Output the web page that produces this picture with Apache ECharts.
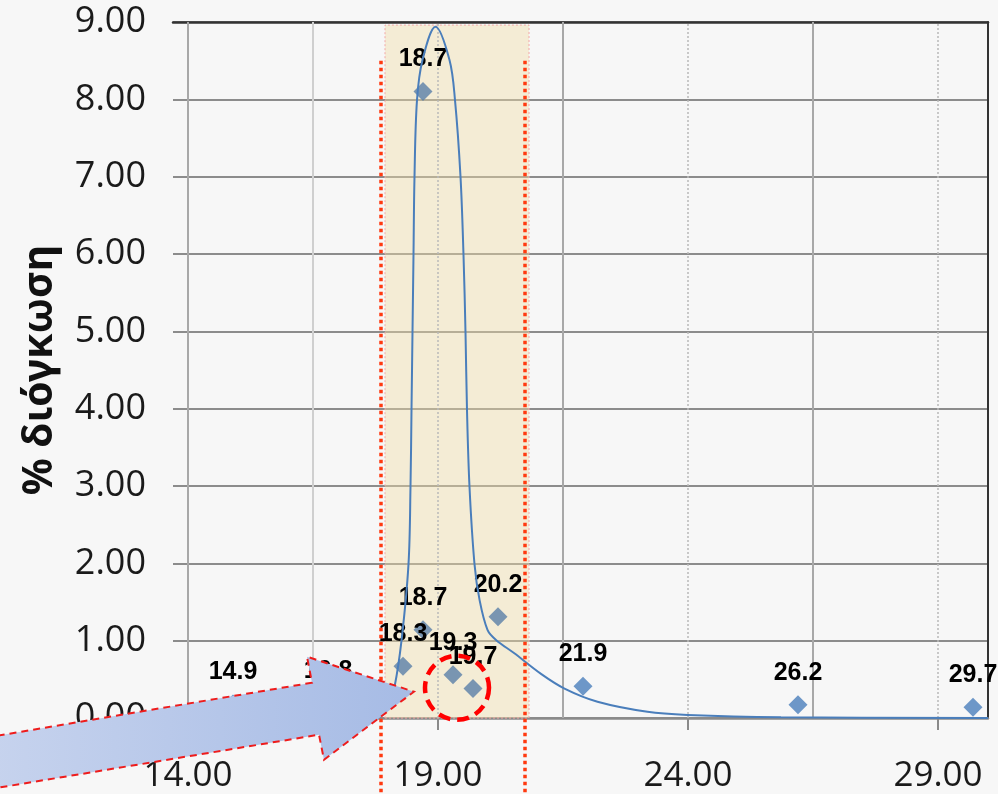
<!DOCTYPE html>
<html><head><meta charset="utf-8">
<script src="https://cdn.jsdelivr.net/npm/echarts@6/dist/echarts.min.js"></script>
<style>html,body{margin:0;padding:0;background:#f7f7f7}#c{width:998px;height:794px}</style>
</head><body><div id="c"></div>
<script>
// ---- data ----
const pointX = [14.9, 16.8, 18.3, 18.7, 18.7, 19.3, 19.7, 20.2, 21.9, 26.2, 29.7];
const pointY = [0.18, 0.19, 0.67, 8.10, 1.14, 0.56, 0.38, 1.31, 0.41, 0.17, 0.14];
const curveX = [17.8, 18.0, 18.13, 18.27, 18.41, 18.45, 18.47, 18.49, 18.51, 18.53, 18.58, 18.69, 18.95, 19.23, 19.34, 19.45, 19.51, 19.55, 19.58, 19.63, 19.73, 19.83, 19.99, 20.16, 20.52, 21.06, 21.53, 22.19, 23.19, 23.99, 25.86, 30.0];
const curveY = [0.0, 0.12, 0.40, 1.00, 1.99, 2.99, 3.98, 4.99, 5.99, 7.00, 7.99, 8.51, 8.94, 8.51, 7.99, 7.00, 5.99, 4.99, 3.98, 2.99, 1.99, 1.53, 1.14, 1.01, 0.84, 0.57, 0.38, 0.21, 0.08, 0.04, 0.01, 0.0];
const xTickValues = [14, 19, 24, 29];
const xGridValues = [14, 16.5, 19, 21.5, 24, 26.5, 29];
const yTickValues = [0, 1, 2, 3, 4, 5, 6, 7, 8, 9];
const bandRange = [17.94, 20.82];
const bandTop = 8.96;
const yTitle = '% διόγκωση';

// ---- annotations (data coordinates) ----
const dottedLineX = [17.86, 20.74];
const dottedLineTop = 8.5;
const circleCenter = [19.38, 0.39];
const arrowTip = [18.52, 0.34];

const chart = echarts.init(document.getElementById('c'), null, {renderer: 'canvas'});
const X_MIN = 13.7, X_MAX = 30;
const curveData = curveX.map((x, i) => [x, curveY[i]]);
const pointData = pointX.map((x, i) => [x, pointY[i]]);
const labelFont = "'Liberation Sans Narrow','Liberation Sans',sans-serif";

const gridStyle = v => {
  if (v === 19 || v === 24 || v === 29) return {color: '#b9b9b9', width: 1.5, type: [2, 2]};
  if (v === 16.5) return {color: '#cfcfcf', width: 2, type: 'solid'};
  return {color: '#a8a8a8', width: 2, type: 'solid'};
};

chart.setOption({
  backgroundColor: '#f7f7f7',
  animation: false,
  grid: {left: 173, right: 10, top: 22, bottom: 76},
  xAxis: [{
    type: 'value', min: X_MIN, max: X_MAX,
    axisLine: {show: true, onZero: false, lineStyle: {color: '#8a8a8a', width: 2.5}},
    axisTick: {show: true, customValues: xTickValues, length: 12, lineStyle: {color: '#8a8a8a', width: 2}},
    axisLabel: {customValues: xTickValues, formatter: v => v.toFixed(2), fontSize: 35,
      fontFamily: "'Open Sans',sans-serif", color: '#1a1a1a', margin: 41},
    splitLine: {show: false}
  }, {
    type: 'value', position: 'top', min: X_MIN, max: X_MAX,
    axisLine: {show: true, onZero: false, lineStyle: {color: '#333', width: 2.5}},
    axisTick: {show: false}, axisLabel: {show: false}, splitLine: {show: false}
  }],
  yAxis: [{
    type: 'value', min: 0, max: 9, interval: 1,
    name: yTitle, nameLocation: 'middle', nameRotate: 90, nameGap: 112,
    nameTextStyle: {fontSize: 41, fontWeight: 'bold', fontFamily: "'Noto Sans',sans-serif", color: '#111'},
    axisLine: {show: false}, axisTick: {show: false},
    axisLabel: {formatter: v => v.toFixed(2), fontSize: 36, fontFamily: "'Open Sans',sans-serif", color: '#1a1a1a', margin: 27},
    splitLine: {show: true, lineStyle: {color: '#8c8c8c', width: 1.8}}
  }, {
    type: 'value', position: 'right', min: 0, max: 9,
    axisLine: {show: true, onZero: false, lineStyle: {color: '#333', width: 2}},
    axisTick: {show: false}, axisLabel: {show: false}, splitLine: {show: false}
  }],
  series: [
    {
      name: 'gridHelper', type: 'line', data: curveData, z: 1, silent: true,
      showSymbol: false, lineStyle: {opacity: 0},
      markLine: {
        silent: true, symbol: 'none', z: 1, label: {show: false},
        data: xGridValues.map(v => ({xAxis: v, lineStyle: gridStyle(v)}))
      }
    },
    {
      name: 'band', type: 'line', data: curveData, z: 1, silent: true,
      showSymbol: false, lineStyle: {opacity: 0},
      markArea: {
        silent: true, z: 1,
        itemStyle: {color: 'rgba(240,222,168,0.42)', borderColor: '#f2a8a8', borderWidth: 1, borderType: [2, 2]},
        data: [[{coord: [bandRange[0], 0]}, {coord: [bandRange[1], bandTop]}]]
      }
    },
    {
      name: 'points', type: 'scatter', data: pointData, z: 3,
      symbol: 'diamond', symbolSize: 19,
      itemStyle: {color: p => (p.value[0] > bandRange[0] && p.value[0] < bandRange[1]) ? '#5a7fa8' : '#4a7ebb'},
      label: {show: true, position: 'top', distance: 10, formatter: p => p.value[0].toFixed(1),
        fontSize: 25, fontWeight: 'bold', fontFamily: labelFont, color: '#000',
        textBorderWidth: 0, opacity: 1}
    },
    {
      name: 'curve', type: 'line', data: curveData, z: 4, silent: true,
      showSymbol: false, smooth: 0.35,
      lineStyle: {color: '#4a7ebb', width: 2}
    }
  ]
});

const toPx = p => chart.convertToPixel({xAxisIndex: 0, yAxisIndex: 0}, p);
const H = chart.getHeight();
const graphics = [];
dottedLineX.forEach(x => {
  const top = toPx([x, dottedLineTop]);
  graphics.push({type: 'line', z: 50, silent: true,
    shape: {x1: top[0], y1: top[1], x2: top[0], y2: H},
    style: {stroke: '#ff3a10', lineWidth: 3.5, lineDash: [3.5, 3.5]}});
});
const cc = toPx(circleCenter);
graphics.push({type: 'circle', z: 60, silent: true, shape: {cx: cc[0], cy: cc[1], r: 32},
  style: {fill: 'none', stroke: '#ff0000', lineWidth: 4.5, lineDash: [12, 7]}});
const tip = toPx(arrowTip);
const rel = [[-440, 48], [-102, -9], [-107, -35], [0, 0], [-90, 68], [-95, 43], [-440, 100]];
graphics.push({type: 'polygon', z: 70, silent: true,
  shape: {points: rel.map(r => [tip[0] + r[0], tip[1] + r[1]])},
  style: {fill: new echarts.graphic.LinearGradient(0, 0, 1, 0, [
      {offset: 0, color: '#c8d4ee'}, {offset: 1, color: '#a6bbe5'}]),
    stroke: '#ee1c1c', lineWidth: 2, lineDash: [7, 5]}});
chart.setOption({graphic: graphics});
</script>
</body></html>
